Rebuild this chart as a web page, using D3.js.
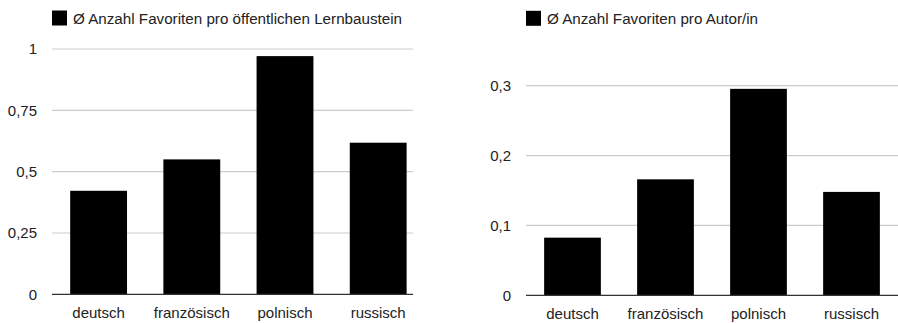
<!DOCTYPE html>
<html>
<head>
<meta charset="utf-8">
<script src="https://cdn.jsdelivr.net/npm/d3@7"></script>
<style>
  html, body { margin: 0; padding: 0; background: #fff; }
  svg { display: block; }
  text { font-family: "Liberation Sans", Arial, Helvetica, sans-serif; fill: #222; }
</style>
</head>
<body>
<svg id="chart" width="898" height="323"></svg>
<script>
// Sprachen (Kategorien)
const categories = ["deutsch", "französisch", "polnisch", "russisch"];

// Ø Anzahl Favoriten pro öffentlichen Lernbaustein
const favPerModule = [0.422, 0.550, 0.971, 0.618];
const moduleTicks = [0, 0.25, 0.5, 0.75, 1];

// Ø Anzahl Favoriten pro Autor/in
const favPerAuthor = [0.0825, 0.166, 0.2955, 0.148];
const authorTicks = [0, 0.1, 0.2, 0.3];

const legendModule = "Ø Anzahl Favoriten pro öffentlichen Lernbaustein";
const legendAuthor = "Ø Anzahl Favoriten pro Autor/in";

const svg = d3.select("#chart");
const fmt = v => String(v).replace(".", ",");

function drawPanel(cfg) {
  const g = svg.append("g");

  const x = d3.scaleBand()
    .domain(categories)
    .range([cfg.left, cfg.bandRight])
    .paddingInner(0.39)
    .paddingOuter(0.195);

  const y = d3.scaleLinear()
    .domain([0, cfg.max])
    .range([cfg.bottom, cfg.top]);

  // Gitterlinien
  g.append("g")
    .selectAll("line")
    .data(cfg.ticks.filter(t => t > 0))
    .join("line")
    .attr("x1", cfg.left)
    .attr("x2", cfg.gridRight)
    .attr("y1", d => y(d))
    .attr("y2", d => y(d))
    .attr("stroke", "#cccccc")
    .attr("stroke-width", 1.2);

  // Y-Achsenbeschriftung
  g.append("g")
    .selectAll("text")
    .data(cfg.ticks)
    .join("text")
    .attr("x", cfg.left - 15)
    .attr("y", d => y(d))
    .attr("dy", "0.35em")
    .attr("text-anchor", "end")
    .style("font-size", "15px")
    .text(fmt);

  // Balken
  g.append("g")
    .selectAll("rect")
    .data(cfg.values)
    .join("rect")
    .attr("x", (d, i) => x(categories[i]))
    .attr("width", x.bandwidth())
    .attr("y", d => y(d))
    .attr("height", d => y(0) - y(d))
    .attr("fill", "#000");

  // Nulllinie
  g.append("line")
    .attr("x1", cfg.left)
    .attr("x2", cfg.gridRight)
    .attr("y1", y(0))
    .attr("y2", y(0))
    .attr("stroke", "#333")
    .attr("stroke-width", 1.3);

  // X-Achsenbeschriftung
  g.append("g")
    .selectAll("text")
    .data(categories)
    .join("text")
    .attr("x", d => x(d) + x.bandwidth() / 2)
    .attr("y", cfg.labelY)
    .attr("text-anchor", "middle")
    .style("font-size", "15px")
    .text(d => d);

  // Legende
  g.append("rect")
    .attr("x", cfg.left)
    .attr("y", cfg.legendY - 13.5)
    .attr("width", 15)
    .attr("height", 15)
    .attr("fill", "#000");
  g.append("text")
    .attr("x", cfg.left + 21)
    .attr("y", cfg.legendY)
    .style("font-size", "15.2px")
    .text(cfg.legend);
}

drawPanel({
  values: favPerModule, ticks: moduleTicks, max: 1, legend: legendModule,
  left: 52, bandRight: 424.8, gridRight: 413,
  top: 49, bottom: 294.3, labelY: 318, legendY: 24
});

drawPanel({
  values: favPerAuthor, ticks: authorTicks, max: 0.3, legend: legendAuthor,
  left: 526, bandRight: 898, gridRight: 898,
  top: 85.7, bottom: 295.3, labelY: 319, legendY: 24.3
});
</script>
</body>
</html>
